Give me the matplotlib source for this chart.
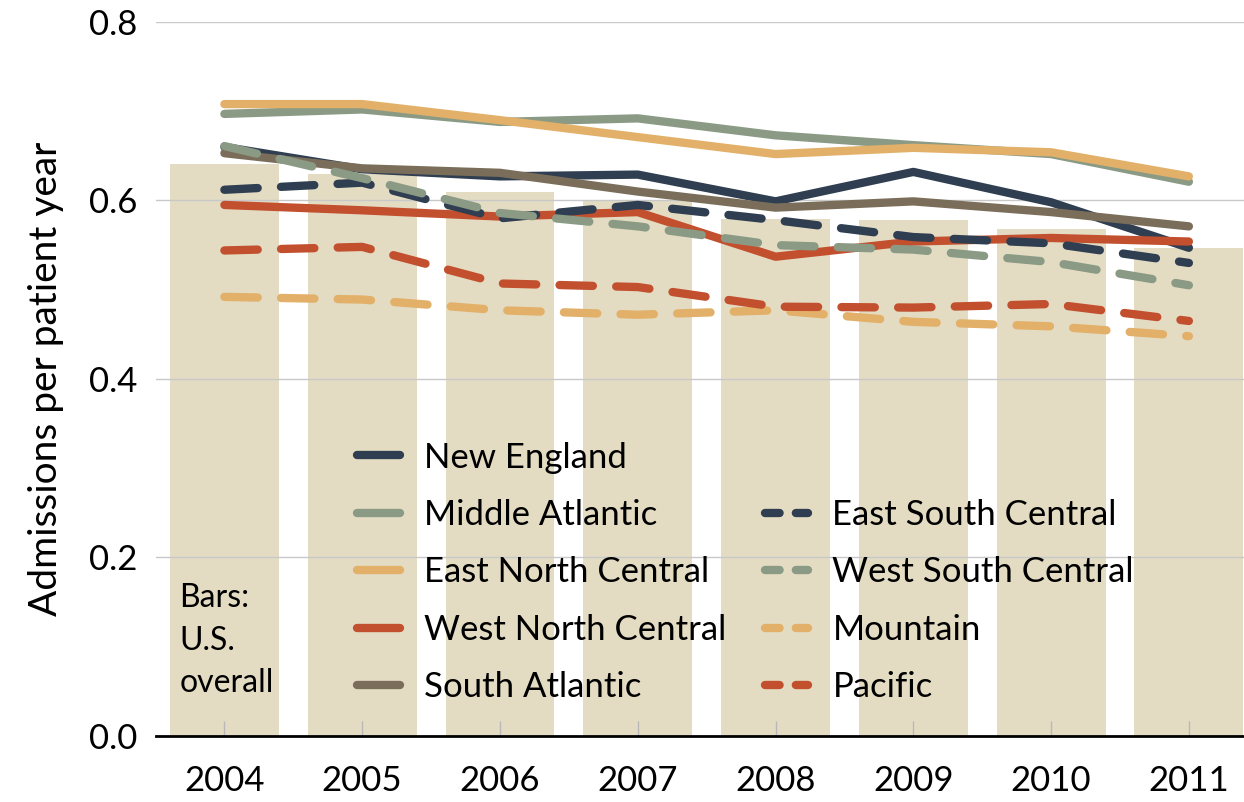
import numpy as np
import matplotlib.pyplot as plt
from matplotlib.lines import Line2D

plt.rcParams['font.family'] = ['Lato', 'DejaVu Sans']

years = ['2004', '2005', '2006', '2007', '2008', '2009', '2010', '2011']
us_overall = [0.641, 0.630, 0.609, 0.599, 0.579, 0.578, 0.568, 0.547]

new_england = [0.660, 0.635, 0.627, 0.629, 0.599, 0.632, 0.598, 0.547]
middle_atlantic = [0.697, 0.702, 0.688, 0.692, 0.673, 0.662, 0.652, 0.621]
east_north_central = [0.708, 0.708, 0.690, 0.671, 0.652, 0.659, 0.654, 0.627]
west_north_central = [0.595, 0.589, 0.582, 0.587, 0.537, 0.554, 0.558, 0.554]
south_atlantic = [0.653, 0.636, 0.631, 0.610, 0.592, 0.599, 0.587, 0.571]
east_south_central = [0.612, 0.620, 0.580, 0.595, 0.578, 0.559, 0.552, 0.530]
west_south_central = [0.661, 0.625, 0.586, 0.571, 0.550, 0.545, 0.531, 0.505]
mountain = [0.492, 0.489, 0.477, 0.472, 0.477, 0.464, 0.459, 0.448]
pacific = [0.544, 0.548, 0.507, 0.503, 0.481, 0.480, 0.484, 0.465]

navy = '#2f3e50'
sage = '#8a9a84'
orange = '#e2b068'
red = '#c2502f'
brown = '#7a6e5a'

solid = [('New England', new_england, navy),
         ('Middle Atlantic', middle_atlantic, sage),
         ('East North Central', east_north_central, orange),
         ('West North Central', west_north_central, red),
         ('South Atlantic', south_atlantic, brown)]
dashed = [('East South Central', east_south_central, navy),
          ('West South Central', west_south_central, sage),
          ('Mountain', mountain, orange),
          ('Pacific', pacific, red)]

fig = plt.figure(figsize=(12.44, 8.02), dpi=100)
ax = fig.add_axes([0.125, 0.0823, 0.875, 0.8903])

x = np.arange(len(years))
ax.bar(x, us_overall, width=0.79, color='#e3dcc2', zorder=1)

handles = []
for name, vals, c in solid:
    h, = ax.plot(x, vals, color=c, lw=6, solid_capstyle='round',
                 solid_joinstyle='round', label=name, zorder=3)
    handles.append(h)
handles.append(Line2D([], [], alpha=0, label=''))
for name, vals, c in dashed:
    ax.plot(x, vals, color=c, lw=6, dashes=(4.0, 2.8),
            dash_capstyle='round', dash_joinstyle='round', zorder=3)
    # shorter dashes for the legend key, as in the original
    handles.append(Line2D([], [], color=c, lw=6, dashes=(1.75, 1.95),
                          dash_capstyle='round', label=name))

ax.set_xlim(-0.5, 7.4)
ax.set_ylim(0, 0.8)
ax.set_yticks([0.0, 0.2, 0.4, 0.6, 0.8])
ax.set_yticklabels(['0.0', '0.2', '0.4', '0.6', '0.8'])
ax.set_xticks(x)
ax.set_xticklabels(years)
ax.set_axisbelow(False)
ax.yaxis.grid(True, color='#c8c8c8', lw=1)
ax.tick_params(axis='y', length=0, pad=13, labelsize=25)
ax.tick_params(axis='x', direction='in', length=11, width=1, color='#b8b8b8',
               pad=21, labelsize=25)
for s in ['top', 'right', 'left']:
    ax.spines[s].set_visible(False)
ax.spines['bottom'].set_linewidth(2)
ax.spines['bottom'].set_color('black')
ax.spines['bottom'].set_zorder(4)

ax.set_ylabel('Admissions per patient year', fontsize=28, labelpad=18)

ax.text(0.022, 0.214, 'Bars:\nU.S.\noverall', transform=ax.transAxes,
        fontsize=23, ha='left', va='top', linespacing=1.52)

ax.legend(handles=handles, ncol=2, loc='upper left', bbox_to_anchor=(0.156, 0.456),
          frameon=False, fontsize=25, handlelength=1.25, handletextpad=0.7,
          columnspacing=1.1, labelspacing=0.73)

plt.savefig('out.png', dpi=100)
